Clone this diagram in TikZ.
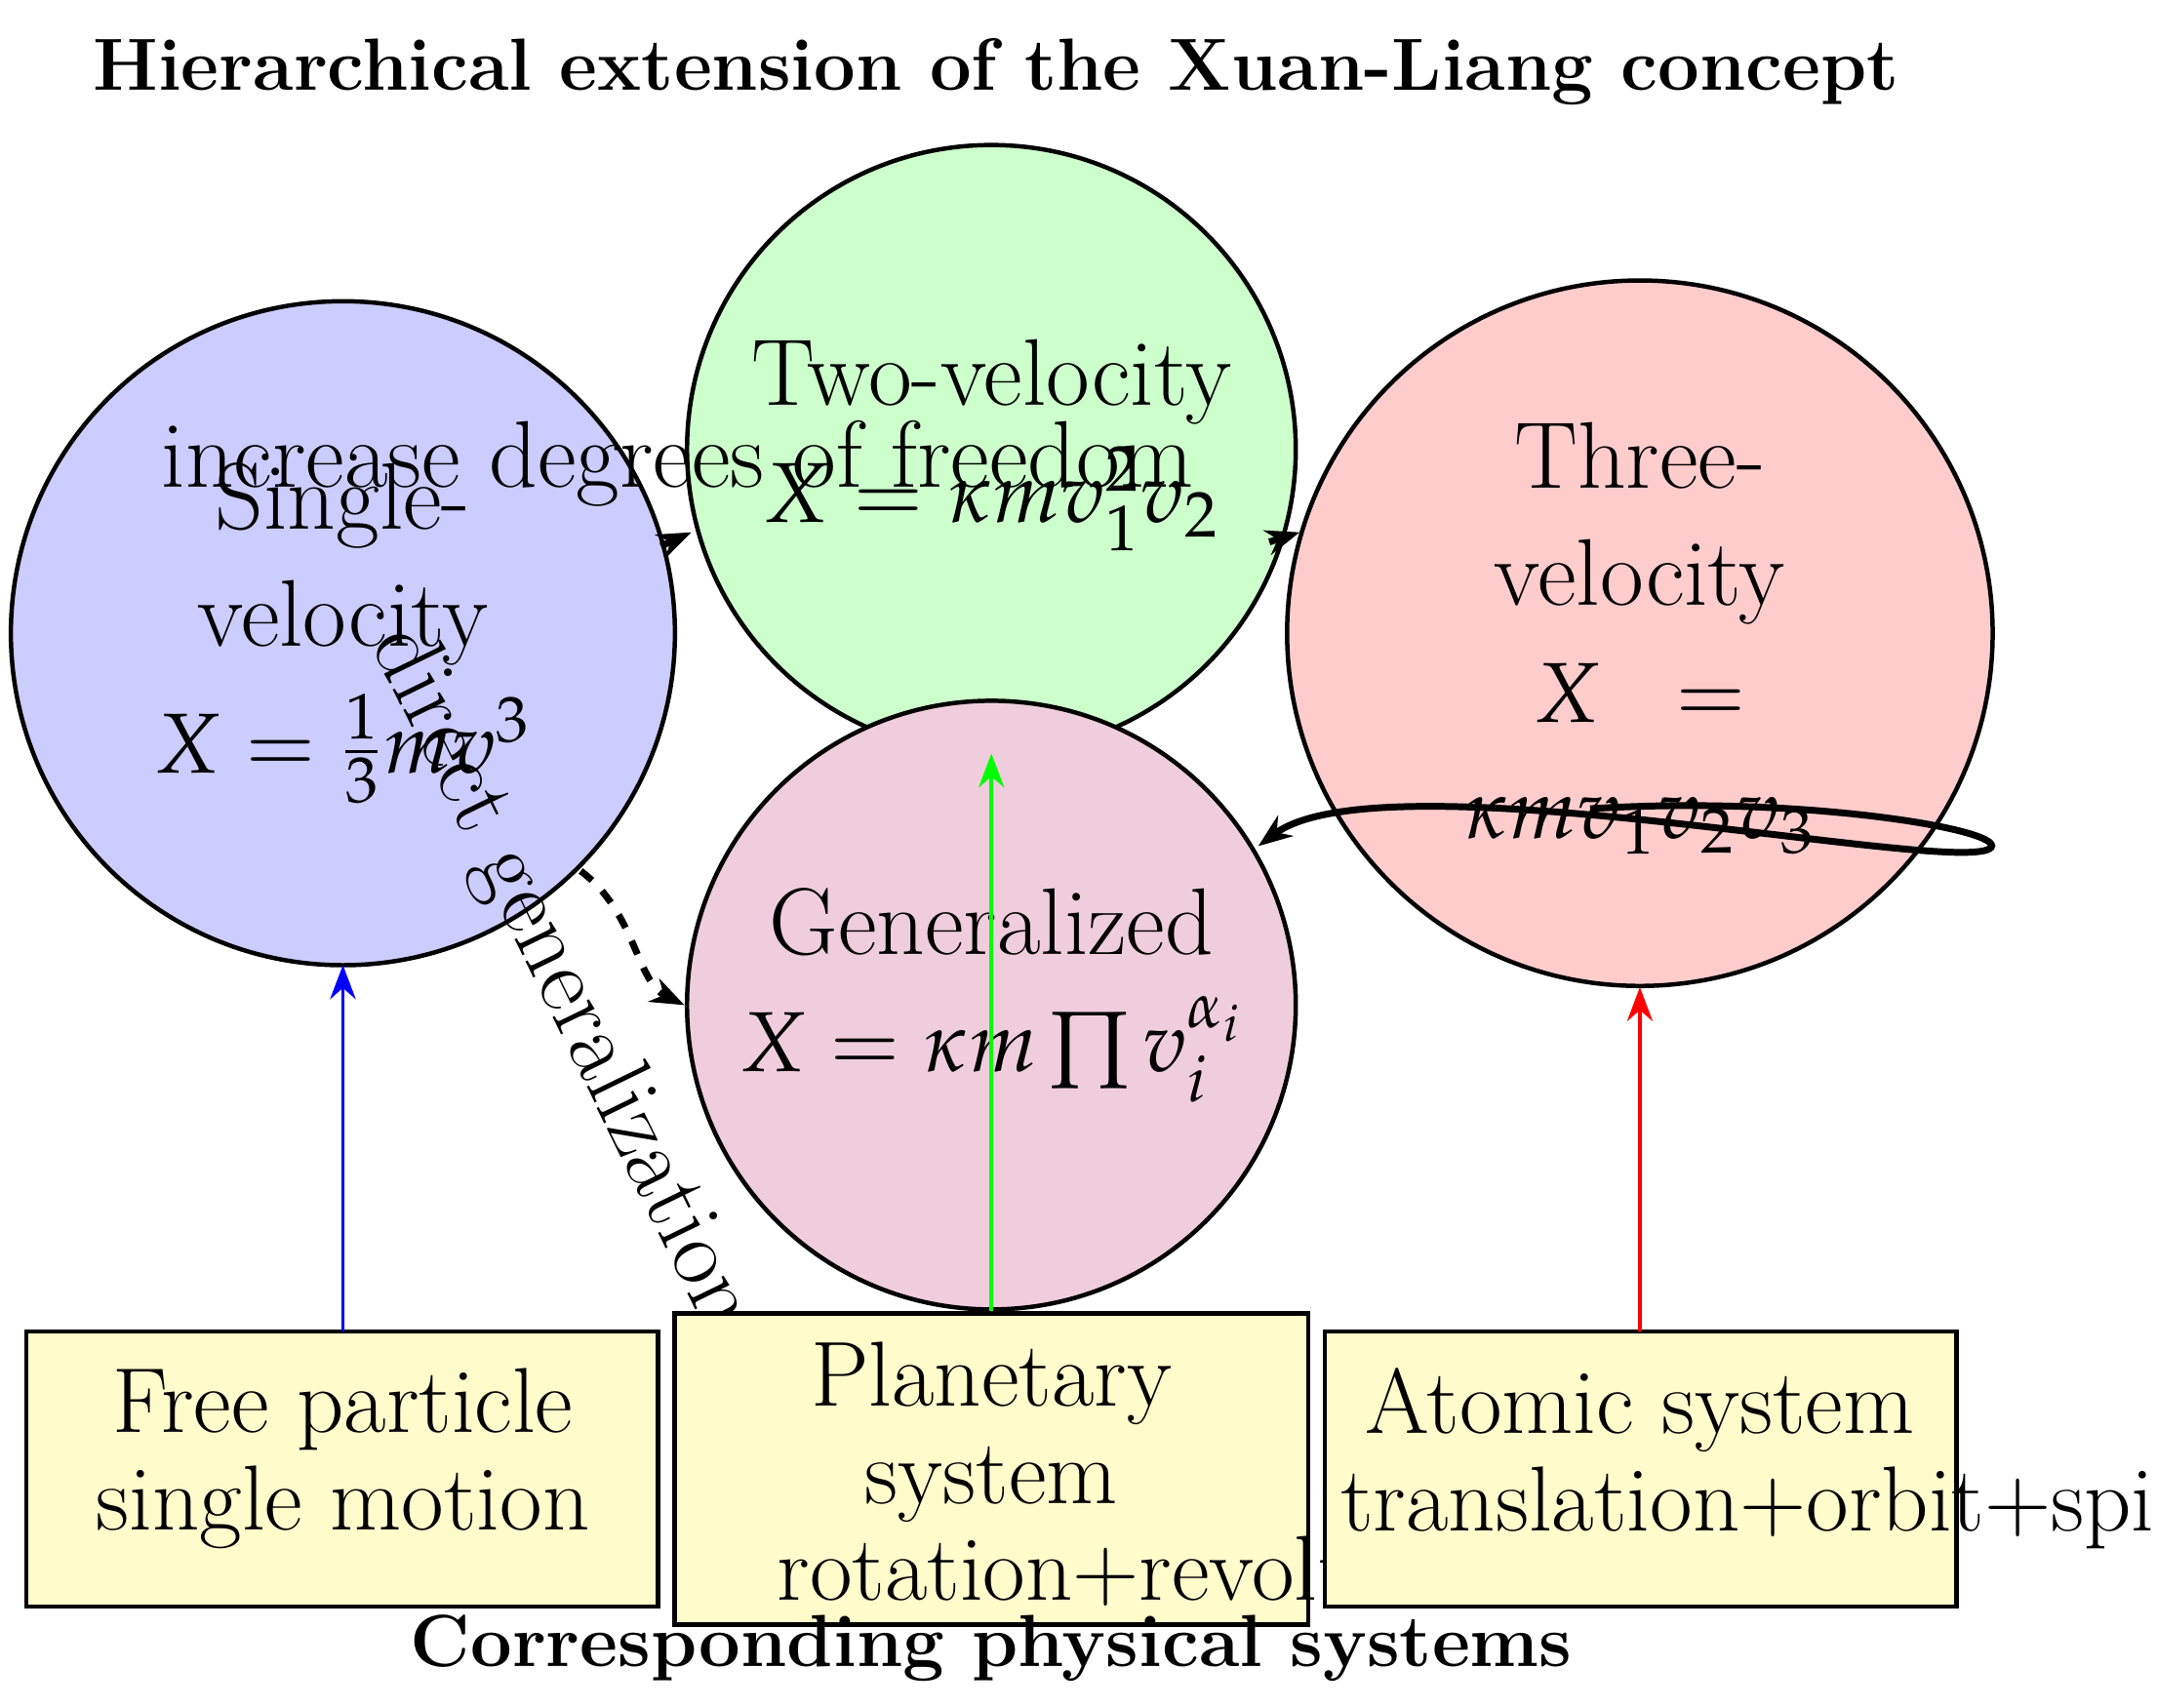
\documentclass[tikz,border=0pt]{standalone}
\usepackage{mathpazo}
\renewcommand{\rmdefault}{lmr}
\usetikzlibrary{arrows.meta}
\definecolor{genc}{RGB}{240,205,220}
\newcommand{\mth}[1]{{\fontsize{17.5}{22}\selectfont$#1$}}
\tikzset{
 circ/.style={draw=black,line width=0.9pt},
 ctext/.style={align=center,font=\fontsize{19.5}{24}\selectfont,inner sep=0pt},
 sysbox/.style={draw=black,line width=0.9pt,fill=yellow!20},
 btext/.style={align=center,font=\fontsize{19}{20}\selectfont,inner sep=0pt},
 link/.style={-{Stealth[length=7pt]},line width=1.4pt},
 up/.style={-{Stealth[length=7pt]},line width=0.8pt},
 ttl/.style={font=\fontsize{15.2}{18}\selectfont\bfseries}
}
\begin{document}
\begin{tikzpicture}[x=0.01cm,y=-0.01cm]
\useasboundingbox (0,0) rectangle (1560,1235);
\node[ttl,anchor=west] (title) at (55,52) {Hierarchical extension of the Xuan-Liang concept};
% circles
\fill[blue!20] (248,458) circle[radius=2.40cm];
\draw[circ] (248,458) circle[radius=2.40cm];
\fill[green!20] (717,325) circle[radius=2.20cm];
\draw[circ] (717,325) circle[radius=2.20cm];
\fill[red!20] (1186,458) circle[radius=2.55cm];
\draw[circ] (1186,458) circle[radius=2.55cm];
\fill[genc] (717,727) circle[radius=2.20cm];
\draw[circ] (717,727) circle[radius=2.20cm];
\coordinate (b1) at (248,698);
\coordinate (b2) at (717,545);
\coordinate (b3) at (1186,714);
\coordinate (s1) at (478,395);
\coordinate (e1) at (500,385);
\coordinate (s2) at (918,392);
\coordinate (e2) at (940,385);
\coordinate (r1) at (1150,585);
\coordinate (g1) at (910,612);
\coordinate (d1) at (420,630);
\coordinate (g2) at (495,727);
% circle texts
\node[ctext] (t1) at (248,458) {Single-\\velocity\\[2pt] \mth{X=\frac{1}{3}mv^3}};
\node[ctext] (t2) at (717,322) {Two-velocity\\ \mth{X=\kappa m v_1^2 v_2}};
\node[ctext] (t3) at (1186,462) {Three-\\velocity\\ \mth{X\ \ =}\\ \mth{\kappa m v_1 v_2 v_3}};
\node[ctext] (t4) at (717,720) {Generalized\\ \mth{X=\kappa m\prod v_i^{\alpha_i}}};
% connectors
\draw[link] (s1) -- (e1);
\draw[link] (s2) -- (e2);
\node[ctext] (lab) at (490,335) {increase degrees of freedom};
\draw[link] (r1) .. controls (1300,575) and (1450,600) .. (1440,613) .. controls (1420,635) and (1000,545) .. (g1);
\draw[link,dashed] (d1) .. controls (460,660) and (460,710) .. (g2);
\node[ctext,rotate=-64,anchor=center] (lab2) at (405,708) {direct generalization};
% boxes
\draw[sysbox] (19,963) rectangle (476,1162);
\node[btext] (sys1) at (248,1055) {Free particle\\ single motion};
\draw[up,green] (717,950) -- (b2);
\draw[sysbox] (488,950) rectangle (946,1175);
\node[btext,anchor=north] (sys2) at (717,970) {Planetary\\ system\\ \makebox[0pt]{\hspace{2.2cm}rotation+revolution}};
\draw[sysbox] (958,963) rectangle (1415,1162);
\node[btext] (sys3) at (1186,1055) {Atomic system\\ \makebox[0pt]{\hspace{1.9cm}translation+orbit+spin}};
\draw[up,blue] (248,963) -- (b1);
\draw[up,red] (1186,963) -- (b3);
\node[ttl] (foot) at (717,1192) {Corresponding physical systems};
\end{tikzpicture}
\end{document}
